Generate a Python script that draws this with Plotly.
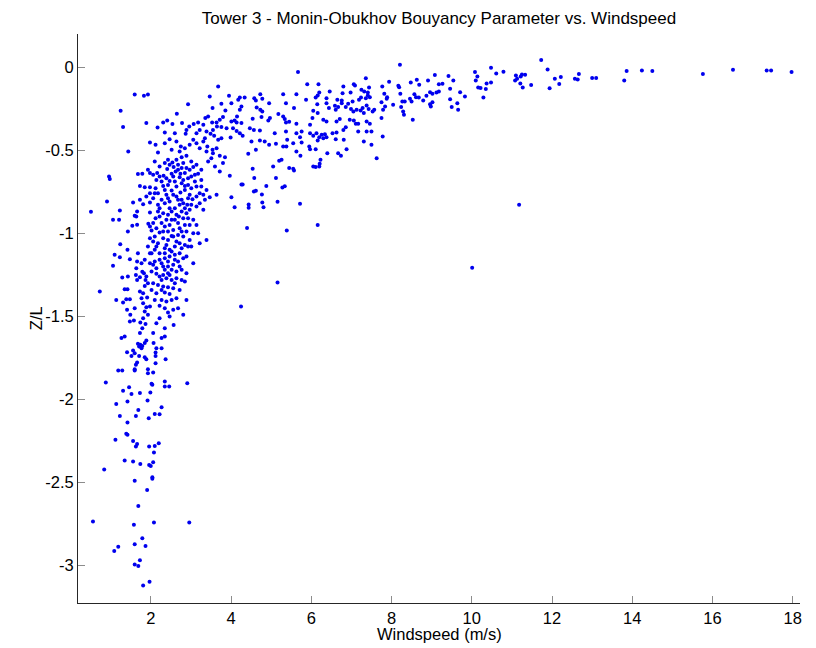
import plotly.graph_objects as go

# (windspeed m/s, Z/L) pairs, grouped by region
upper_left = [
    (1.60,-0.165),(1.83,-0.173),(1.93,-0.165),(1.25,-0.263),(2.65,-0.281),(2.93,-0.223),(3.68,-0.117),
    (3.47,-0.177),(3.95,-0.173),(3.76,-0.221),(3.54,-0.247),(3.86,-0.261),(1.31,-0.361),(1.89,-0.337),
    (2.17,-0.364),(2.31,-0.333),(2.41,-0.321),(2.54,-0.343),(2.78,-0.337),(2.35,-0.394),(2.60,-0.398),
    (2.89,-0.378),(2.87,-0.402),(2.96,-0.357),(3.07,-0.343),(3.18,-0.333),(3.31,-0.347),(3.36,-0.307),
    (3.43,-0.297),(3.53,-0.333),(3.64,-0.333),(3.72,-0.317),(3.80,-0.301),(3.65,-0.357),(3.55,-0.378),
    (3.76,-0.361),(3.89,-0.368),(3.49,-0.402),(3.39,-0.388),(3.22,-0.378),(3.14,-0.398),(3.35,-0.428),
    (3.58,-0.414),(3.68,-0.438),(3.76,-0.428),(1.44,-0.508),(1.98,-0.454),(2.12,-0.468),(2.18,-0.514),
    (2.35,-0.458),(2.47,-0.434),(2.64,-0.448),(2.75,-0.478),(2.52,-0.498),(2.72,-0.508),(2.85,-0.488),
    (2.97,-0.468),(3.06,-0.438),(3.14,-0.458),(3.22,-0.488),(3.31,-0.448),(3.41,-0.478),(3.54,-0.498),
    (3.64,-0.488),(3.55,-0.518),(3.72,-0.534),(3.85,-0.542),(3.39,-0.508),(3.51,-0.548),(3.43,-0.568),
    (3.80,-0.578),(3.60,-0.598),(0.96,-0.658),(0.98,-0.673),(1.68,-0.644),(1.79,-0.642),(1.93,-0.618),
    (1.98,-0.638),(2.16,-0.638),(2.22,-0.658),(2.32,-0.654),(2.41,-0.614),(2.47,-0.588),(2.64,-0.558),
    (2.77,-0.542),(2.89,-0.534),(3.01,-0.568),(2.81,-0.578),(2.57,-0.602),(2.68,-0.618),(2.89,-0.608),
    (3.06,-0.602),(3.14,-0.588),(3.18,-0.642),(3.01,-0.658),(2.93,-0.669),(2.81,-0.679),(2.72,-0.663),
    (2.56,-0.658),(2.47,-0.685),(3.72,-0.628),(1.73,-0.715),(1.85,-0.723),(1.98,-0.723),(2.12,-0.729),
    (2.31,-0.715),(2.18,-0.759),(2.35,-0.739),(2.39,-0.769),(2.52,-0.743),(2.64,-0.719),(2.74,-0.755),
    (2.85,-0.739),(2.97,-0.769),(3.14,-0.719),(3.22,-0.759),(3.39,-0.739),(3.04,-0.795),(2.77,-0.799),
    (2.64,-0.779),(2.47,-0.809),(2.27,-0.799),(2.06,-0.789),(1.98,-0.815),(1.81,-0.825),(1.56,-0.815),
    (1.73,-0.799),(3.47,-0.783),(3.64,-0.769),(2.91,-0.829),(3.14,-0.839),(2.60,-0.849),(2.72,-0.829),
    (0.91,-0.809),
]

upper_core_extra = [
    (2.10,-0.568),(2.22,-0.598),(2.35,-0.578),(2.43,-0.558),(2.54,-0.574),(2.68,-0.588),(2.77,-0.608),
    (2.85,-0.638),(2.97,-0.618),(3.10,-0.648),(3.26,-0.618),(3.26,-0.679),(3.10,-0.689),(2.93,-0.709),
    (2.77,-0.699),(2.60,-0.689),(2.43,-0.709),(2.27,-0.689),(2.14,-0.679),(2.06,-0.648),(2.39,-0.669),
    (2.52,-0.642),(2.62,-0.628),(2.74,-0.642),(2.85,-0.715),(3.01,-0.729),(3.26,-0.719),(3.31,-0.769),
    (3.14,-0.779),(2.93,-0.789),(2.81,-0.819),(2.68,-0.799),(2.56,-0.769),(2.43,-0.789),(2.35,-0.819),
    (2.18,-0.829),(2.10,-0.759),(1.98,-0.759),(1.89,-0.779),(3.01,-0.829),(3.22,-0.819),(3.35,-0.799),
    (2.47,-0.849),(2.85,-0.849),(2.22,-0.849),
]

mid_left = [
    (0.51,-0.871),(1.06,-0.919),(1.21,-0.919),(1.23,-0.863),(1.64,-0.899),(1.66,-0.949),(1.54,-0.955),
    (1.43,-0.990),(1.24,-1.066),(1.10,-1.130),(1.23,-1.144),(1.48,-1.156),(1.42,-1.100),(1.06,-1.196),
    (0.73,-1.351),(1.29,-1.267),(1.43,-1.261),(1.35,-1.337),(1.42,-1.337),(1.14,-1.401),(1.31,-1.417),
    (1.39,-1.397),(1.48,-1.397),(1.41,-1.461),(1.60,-1.451),(1.49,-1.491),(1.48,-1.531),(1.58,-1.525),
    (1.68,-1.120),(1.66,-1.170),(1.77,-1.180),(1.64,-1.210),(1.63,-1.251),(1.66,-1.281),(1.73,-1.265),
    (1.79,-1.231),(1.83,-1.240),(1.87,-1.281),(1.93,-1.301),(1.85,-1.317),(1.73,-1.351),(1.81,-1.361),
    (1.77,-1.391),(1.91,-1.387),(1.81,-1.421),(1.89,-1.445),(1.85,-1.471),(1.93,-1.491),(1.81,-1.511),
    (1.74,-1.537),(1.87,-1.546),(1.79,-1.572),
]

dense_core = [
    (1.60,-0.895),(1.66,-0.869),(1.98,-0.875),(1.94,-0.943),(1.98,-0.960),(2.02,-0.984),(2.06,-0.939),
    (2.12,-0.909),(2.22,-0.899),(2.31,-0.879),(2.39,-0.919),(2.35,-0.960),(2.43,-0.990),(2.22,-0.996),
    (2.10,-1.020),(1.98,-1.030),(2.06,-1.050),(2.18,-1.060),(2.31,-1.030),(2.43,-1.040),(2.52,-1.016),
    (2.56,-0.980),(2.47,-0.950),(2.60,-0.919),(2.64,-0.889),(2.77,-0.869),(2.81,-0.909),(2.89,-0.879),
    (2.85,-0.950),(2.72,-0.970),(2.68,-1.010),(2.81,-1.020),(2.89,-0.990),(2.97,-1.040),(2.85,-1.070),
    (2.72,-1.060),(2.60,-1.080),(2.47,-1.100),(2.35,-1.090),(2.22,-1.120),(2.10,-1.100),(1.98,-1.120),
    (1.93,-1.080),(1.85,-1.160),(1.98,-1.180),(2.10,-1.170),(2.22,-1.160),(2.35,-1.150),(2.47,-1.140),
    (2.60,-1.130),(2.72,-1.120),(2.81,-1.150),(2.68,-1.170),(2.56,-1.190),(2.43,-1.200),(2.31,-1.200),
    (2.14,-1.210),(2.02,-1.230),(2.14,-1.244),(2.31,-1.251),(2.43,-1.240),(2.52,-1.220),(2.64,-1.230),
    (2.77,-1.220),(2.77,-1.281),(2.64,-1.271),(2.52,-1.281),(2.39,-1.271),(2.27,-1.281),(2.18,-1.311),
    (2.31,-1.321),(2.43,-1.325),(2.56,-1.331),(2.35,-1.357),(2.47,-1.365),(2.14,-1.361),(2.02,-1.341),
    (2.27,-1.401),(2.39,-1.411),(2.52,-1.401),(2.64,-1.391),(2.22,-1.437),(2.35,-1.451),(2.43,-1.477),
    (2.56,-1.461),(2.68,-1.451),(2.81,-1.491),(2.89,-1.401),(2.47,-1.501),(2.57,-1.552),(2.22,-1.511),
    (2.14,-1.541),(2.35,-1.572),(2.89,-1.240),(2.85,-1.291),(3.06,-1.180),(3.14,-0.950),(3.22,-1.060),
    (3.39,-1.040),(3.18,-1.000),(3.06,-0.919),(2.97,-0.859),(3.31,-0.859),(3.01,-1.080),
]

lower_core_extra = [
    (2.18,-0.869),(2.43,-0.889),(2.52,-0.869),(2.70,-0.899),(2.93,-0.909),(2.97,-0.950),(2.68,-0.939),
    (2.52,-0.919),(2.27,-0.939),(2.14,-0.970),(2.31,-0.990),(2.56,-1.020),(2.77,-0.990),(3.06,-1.000),
    (2.93,-1.080),(2.64,-1.050),(2.39,-1.070),(2.14,-1.080),(2.02,-1.120),(2.35,-1.120),(2.52,-1.110),
    (2.77,-1.090),(2.89,-1.140),(2.60,-1.160),(2.43,-1.170),(2.27,-1.180),(2.06,-1.190),(2.72,-1.200),
    (2.35,-1.220),(2.22,-1.261),(2.47,-1.251),(2.60,-1.301),(2.06,-1.301),(1.89,-1.261),(2.27,-1.341),
    (2.72,-1.341),(2.10,-1.401),(1.98,-1.441),
]

lower_left = [
    (1.73,-1.601),(1.27,-1.631),(1.35,-1.621),(2.06,-1.601),(2.27,-1.631),(2.35,-1.621),(1.89,-1.645),
    (1.85,-1.661),(1.68,-1.665),(1.74,-1.671),(1.71,-1.681),(1.77,-1.692),(1.79,-1.678),(2.07,-1.661),
    (2.14,-1.692),(2.27,-1.692),(1.41,-1.716),(1.56,-1.706),(1.60,-1.722),(1.52,-1.738),(1.71,-1.738),
    (1.85,-1.746),(1.89,-1.758),(2.12,-1.718),(2.12,-1.738),(2.37,-1.758),(1.66,-1.778),(1.63,-1.792),
    (1.60,-1.818),(1.60,-1.826),(2.12,-1.782),(1.19,-1.826),(1.29,-1.826),(1.93,-1.818),(1.93,-1.842),
    (2.06,-1.838),(0.88,-1.898),(2.02,-1.906),(2.04,-1.912),(2.35,-1.892),(2.35,-1.922),(2.46,-1.922),
    (2.91,-1.902),(1.46,-1.926),(1.31,-1.948),(1.52,-1.968),(1.73,-1.962),(1.99,-1.958),(1.92,-2.007),
    (1.42,-2.013),(1.14,-2.027),(2.27,-2.047),(1.69,-2.063),(1.23,-2.099),(1.63,-2.099),(1.95,-2.113),
    (2.10,-2.087),(2.22,-2.089),(1.42,-2.139),(1.39,-2.207),(1.42,-2.213),(1.12,-2.243),(1.56,-2.250),
    (1.66,-2.268),(1.96,-2.284),(2.10,-2.280),(2.20,-2.264),(1.63,-2.284),
]

bottom_left = [
    (2.08,-2.320),(1.35,-2.368),(1.56,-2.374),(1.74,-2.388),(1.96,-2.395),(2.00,-2.401),(2.06,-2.378),
    (0.84,-2.421),(1.60,-2.489),(2.04,-2.469),(2.04,-2.477),(1.91,-2.545),(1.69,-2.641),(0.56,-2.734),
    (1.58,-2.754),(2.08,-2.740),(2.96,-2.740),(1.79,-2.836),(1.60,-2.872),(1.87,-2.882),(1.19,-2.886),
    (1.09,-2.912),(1.73,-2.967),(1.60,-2.993),(1.69,-3.003),(1.97,-3.097),(1.81,-3.119),
]

mid_cloud = [
    (8.21,0.014),(5.67,-0.030),(10.08,-0.030),(7.36,-0.067),(9.08,-0.047),(9.42,-0.053),(10.14,-0.057),
    (5.90,-0.103),(6.18,-0.103),(7.06,-0.103),(7.09,-0.111),(8.17,-0.113),(7.94,-0.089),(7.77,-0.117),
    (8.48,-0.093),(8.63,-0.077),(8.69,-0.107),(8.91,-0.081),(9.18,-0.103),(9.27,-0.101),(9.54,-0.081),
    (6.80,-0.117),(7.25,-0.137),(7.44,-0.123),(7.32,-0.147),(10.10,-0.081),(10.16,-0.123),(5.63,-0.163),
    (6.20,-0.153),(6.16,-0.171),(6.11,-0.183),(6.46,-0.147),(6.38,-0.187),(6.78,-0.157),(6.98,-0.153),
    (6.76,-0.201),(6.65,-0.197),(7.24,-0.183),(7.19,-0.197),(7.41,-0.153),(7.41,-0.171),(7.36,-0.187),
    (7.46,-0.181),(4.22,-0.183),(4.34,-0.183),(4.18,-0.197),(4.58,-0.187),(4.62,-0.201),(4.73,-0.163),
    (4.78,-0.191),(4.95,-0.217),(5.30,-0.163),(5.87,-0.197),(5.37,-0.217),(6.15,-0.223),(7.82,-0.161),
    (7.89,-0.181),(7.88,-0.191),(7.75,-0.211),(8.22,-0.161),(8.19,-0.121),(8.04,-0.227),(8.27,-0.207),
    (8.33,-0.207),(8.46,-0.191),(8.50,-0.207),(8.57,-0.163),(8.61,-0.181),(8.68,-0.183),(8.87,-0.173),
    (8.96,-0.151),(9.02,-0.161),(9.12,-0.153),(9.18,-0.147),(9.46,-0.131),(9.46,-0.193),(9.71,-0.151),
    (9.83,-0.177),(8.79,-0.201),(8.96,-0.223),(9.02,-0.211),(8.98,-0.237),(9.50,-0.241),(9.66,-0.257),
    (9.64,-0.217),(4.01,-0.217),(4.26,-0.237),(4.22,-0.257),(4.64,-0.243),(4.73,-0.257),(4.78,-0.267),
    (4.93,-0.321),(4.76,-0.301),(5.18,-0.283),(5.30,-0.297),(5.57,-0.247),(6.05,-0.263),(6.16,-0.277),
    (6.38,-0.217),(6.44,-0.247),(6.59,-0.233),(6.61,-0.257),(6.67,-0.241),(6.76,-0.217),(6.86,-0.241),
    (6.92,-0.221),(7.03,-0.207),(6.99,-0.253),(7.05,-0.267),(7.13,-0.257),(7.23,-0.261),(7.28,-0.247),
    (7.31,-0.277),(7.38,-0.231),(7.43,-0.253),(7.57,-0.257),(7.79,-0.257),(7.84,-0.237),(7.75,-0.307),
    (8.24,-0.241),(8.29,-0.267),(8.31,-0.287),(8.53,-0.317),(4.15,-0.297),(4.09,-0.321),(4.01,-0.327),
    (4.14,-0.333),(4.26,-0.337),(4.54,-0.311),(4.97,-0.307),(5.34,-0.313),(5.37,-0.333),(5.45,-0.329),
    (5.63,-0.341),(6.03,-0.307),(5.97,-0.347),(6.30,-0.317),(6.38,-0.327),(6.63,-0.327),(6.71,-0.313),
    (6.96,-0.317),(7.06,-0.321),(7.11,-0.341),(7.17,-0.341),(7.38,-0.327),(7.46,-0.341),(7.53,-0.267),
    (4.05,-0.368),(4.14,-0.384),(4.22,-0.398),(4.29,-0.414),(4.47,-0.368),(4.57,-0.378),(4.72,-0.382),
    (5.09,-0.398),(5.37,-0.388),(5.63,-0.398),(5.76,-0.388),(5.97,-0.398),(6.13,-0.398),(6.05,-0.414),
    (6.26,-0.408),(6.34,-0.404),(6.53,-0.398),(6.63,-0.394),(6.80,-0.378),(6.86,-0.362),(7.17,-0.388),
    (7.38,-0.388),(7.50,-0.388),(7.78,-0.418),(3.99,-0.424),(4.51,-0.448),(4.72,-0.442),(4.84,-0.448),
    (4.95,-0.468),(5.12,-0.462),(5.30,-0.478),(5.38,-0.478),(5.40,-0.438),(5.55,-0.458),(5.72,-0.422),
    (5.76,-0.454),(5.95,-0.478),(5.97,-0.494),(6.11,-0.494),(6.16,-0.442),(6.20,-0.422),(6.30,-0.428),
    (6.38,-0.422),(6.61,-0.434),(6.81,-0.438),(6.88,-0.494),(7.31,-0.448),(7.50,-0.468),(4.62,-0.498),
    (4.43,-0.522),(5.63,-0.508),(5.73,-0.534),(6.40,-0.518),(6.67,-0.518),(6.74,-0.534),(7.63,-0.548),
    (5.26,-0.558),(5.20,-0.564),(6.23,-0.558),(5.05,-0.598),(5.45,-0.608),(5.55,-0.612),(6.05,-0.598),
    (6.11,-0.602),(6.20,-0.598),(6.21,-0.582),(4.54,-0.612),
]

mid_sparse = [
    (5.57,-0.622),(4.58,-0.668),(5.12,-0.668),(4.26,-0.707),(4.29,-0.707),(4.88,-0.715),(5.28,-0.725),
    (5.34,-0.717),(4.57,-0.749),(4.62,-0.745),(4.77,-0.767),(4.01,-0.783),(4.09,-0.843),(4.44,-0.827),
    (4.44,-0.847),(4.78,-0.815),(4.81,-0.843),(5.16,-0.811),(5.72,-0.823),(4.40,-0.969),(5.39,-0.983),
    (6.16,-0.951),(10.01,-1.208),(5.16,-1.297),(4.25,-1.441),(3.97,-0.654),(11.18,-0.829),
]

right_tail = [
    (10.29,-0.183),(10.22,-0.126),(10.35,-0.132),(10.37,-0.099),(10.48,-0.093),(10.48,-0.004),
    (10.61,-0.039),(10.79,-0.028),(11.08,-0.081),(11.10,-0.051),(11.13,-0.070),(11.22,-0.057),
    (11.25,-0.045),(11.33,-0.046),(11.21,-0.099),(11.27,-0.123),(11.48,-0.108),(11.73,0.042),
    (11.89,-0.014),(11.94,-0.127),(12.07,-0.070),(12.18,-0.102),(12.22,-0.060),(12.57,-0.070),
    (12.64,-0.075),(12.67,-0.042),(13.00,-0.066),(13.10,-0.066),(13.80,-0.081),(13.86,-0.024),
    (14.24,-0.020),(14.50,-0.024),(15.76,-0.042),(16.51,-0.016),(17.35,-0.020),(17.46,-0.020),
    (17.97,-0.030),
]

x_ticks = [2, 4, 6, 8, 10, 12, 14, 16, 18]
y_ticks = [0, -0.5, -1, -1.5, -2, -2.5, -3]
y_tick_labels = ["0", "-0.5", "-1", "-1.5", "-2", "-2.5", "-3"]

pts = (upper_left + upper_core_extra + mid_left + dense_core + lower_core_extra
       + lower_left + bottom_left + mid_cloud + mid_sparse + right_tail)
windspeed = [p[0] for p in pts]
zl = [p[1] for p in pts]

FONT = "Liberation Sans, Arial, Helvetica, sans-serif"

fig = go.Figure(go.Scatter(
    x=windspeed, y=zl, mode="markers",
    marker=dict(size=4, color="#0000ee", line=dict(width=0)),
    hoverinfo="x+y",
))

axis_common = dict(
    showgrid=False, zeroline=False, showline=True, linecolor="#262626", linewidth=1,
    ticks="inside", ticklen=7, tickcolor="#8c8c8c", tickwidth=1,
    tickfont=dict(family=FONT, size=16.5, color="#000000"), mirror=False,
)

# page body has an 8px margin, so the figure is drawn 8px in from the top-left
fig.update_layout(
    width=808, height=640,
    margin=dict(l=70, r=16, t=26, b=45),
    paper_bgcolor="white", plot_bgcolor="white",
    showlegend=False,
    title=dict(text="Tower 3 - Monin-Obukhov Bouyancy Parameter vs. Windspeed",
               x=0.5, xref="paper", xanchor="center",
               y=1 - 10.5 / 640, yref="container", yanchor="middle",
               font=dict(family=FONT, size=17, color="#000000")),
    xaxis=dict(range=[0.187, 18.18], tickvals=x_ticks, ticktext=[str(t) for t in x_ticks], **axis_common),
    yaxis=dict(range=[-3.225, 0.199], tickvals=y_ticks, ticktext=y_tick_labels, **axis_common),
    annotations=[
        dict(text="Windspeed (m/s)", x=0.5, xref="paper", y=-0.0545, yref="paper",
             xanchor="center", yanchor="middle", showarrow=False,
             font=dict(family=FONT, size=16.5, color="#000000")),
        dict(text="Z/L", x=-0.0586, xref="paper", y=0.5, yref="paper", textangle=-90,
             xanchor="center", yanchor="middle", showarrow=False,
             font=dict(family=FONT, size=16.5, color="#000000")),
    ],
)

fig.write_html("out.html")
